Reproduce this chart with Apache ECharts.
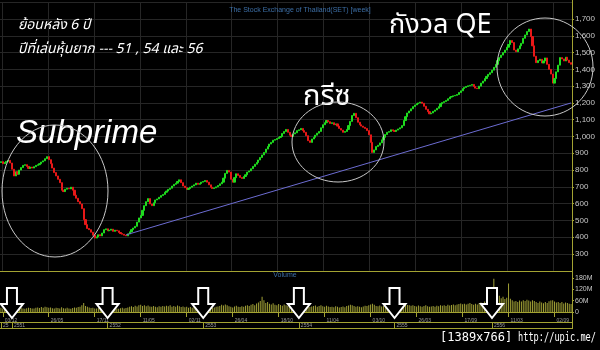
<!DOCTYPE html>
<html><head><meta charset="utf-8">
<script src="https://cdn.jsdelivr.net/npm/echarts@6/dist/echarts.min.js"></script>
<style>html,body{margin:0;padding:0;background:#000;}#c{width:600px;height:350px;}</style>
</head><body><div id="c"></div>
<script>
// ---- data (weekly SET index) ----
const startDate = [2007, 10, 26]; // first week (26/11/2007), weekly steps
const firstOpen = 845;
const closes = [
850,838,845,852,858,842,805,765,790,775,
800,815,828,832,822,810,818,812,820,828,
832,838,848,855,868,880,862,838,812,785,
765,745,725,680,672,686,692,688,698,680,
650,632,612,598,570,505,475,452,445,430,
412,395,402,415,408,425,445,450,438,442,
448,435,442,438,428,422,418,412,408,420,
432,445,455,465,490,515,530,560,588,612,
630,598,588,605,622,628,638,648,655,668,
675,685,692,705,715,722,732,742,725,705,
695,685,690,698,705,712,722,715,720,728,
732,738,728,712,698,690,694,700,708,718,
728,752,780,798,788,745,728,755,778,768,
756,750,762,772,788,795,808,822,835,845,
860,875,890,905,925,940,955,965,978,982,
988,995,1000,1018,1030,1042,1025,1008,1000,1015,
1022,1035,1040,1048,1035,1025,1005,975,965,985,
995,1008,1020,1030,1052,1070,1082,1095,1088,1078,
1082,1070,1075,1062,1048,1038,1025,1030,1042,1065,
1090,1125,1138,1112,1085,1070,1062,1055,1048,1035,
1010,965,905,920,940,948,962,980,995,1012,
1025,1030,1040,1035,1030,1038,1045,1052,1065,1095,
1118,1140,1152,1165,1178,1188,1195,1200,1205,1198,
1180,1162,1148,1135,1140,1150,1158,1168,1178,1195,
1202,1208,1215,1225,1235,1238,1242,1245,1250,1262,
1272,1285,1292,1298,1302,1305,1310,1298,1288,1285,
1300,1318,1330,1345,1358,1370,1380,1395,1412,1430,
1452,1470,1485,1500,1515,1532,1548,1572,1560,1515,
1505,1522,1540,1555,1585,1605,1625,1640,1595,1540,
1478,1440,1452,1460,1438,1450,1468,1430,1400,1372,
1318,1345,1385,1425,1470,1462,1450,1472,1455,1440,1430.33
];
// weekly volume, millions
const volumes = [
22,18,20,24,19,17,21,26,23,20,
18,22,19,17,20,23,21,18,19,22,
24,21,26,23,28,25,22,24,20,18,
23,21,19,25,20,18,22,19,17,21,
24,22,26,28,35,48,32,27,24,21,
22,19,18,21,17,20,18,16,19,22,
20,18,21,19,17,20,22,18,21,24,
27,30,26,33,29,35,38,32,36,30,
34,29,27,31,28,25,30,27,32,29,
33,30,36,28,31,27,34,30,26,29,
25,27,23,26,22,28,24,21,26,30,
28,25,27,23,26,22,24,27,29,31,
38,34,40,36,30,27,24,29,33,28,
26,30,27,33,35,31,38,42,36,45,
50,58,80,62,48,52,44,40,46,38,
35,42,37,33,39,36,31,28,34,30,
32,29,35,31,27,33,38,30,26,29,
31,34,28,32,36,30,27,33,29,26,
28,25,30,27,24,26,29,25,31,34,
38,36,32,28,30,27,25,29,33,31,
36,40,44,38,32,30,34,29,31,27,
25,28,24,26,30,27,31,34,38,42,
40,37,35,33,36,31,29,34,30,28,
32,35,30,27,29,31,28,33,30,35,
33,36,31,38,34,37,40,36,39,42,
45,41,44,39,43,47,42,38,44,40,
46,50,48,55,52,58,62,70,175,82,
78,85,72,80,68,75,150,70,62,55,
58,52,60,55,62,58,65,60,55,62,
58,52,48,55,50,46,52,48,56,60,
62,55,50,53,48,52,45,50,47,44,42
];
const lastPriceLabel = '1,430.33';
const trendStart = [68, 414];
const trendEnd = [310, 1200];
const labelEvery = 25;      // date label every 25 weeks, starting at week 1
const priceTickLabels = {min: 200, max: 1800, interval: 100};
const volTicks = {min: 0, max: 200, interval: 60};

// ---- derived structures ----
const dates = closes.map((_, i) => new Date(Date.UTC(startDate[0], startDate[1], startDate[2]) + i * 7 * 86400000));
const pad = n => (n < 10 ? '0' : '') + n;
const categories = dates.map(d => pad(d.getUTCDate()) + '/' + pad(d.getUTCMonth() + 1) + '/' + d.getUTCFullYear());
const isDateLabel = i => i >= 1 && (i - 1) % labelEvery === 0;
const isYearStart = i => i > 0 && dates[i].getUTCFullYear() !== dates[i - 1].getUTCFullYear();
const candles = closes.map((c, i) => {
  const o = i === 0 ? firstOpen : closes[i - 1];
  return [o, c, Math.min(o, c), Math.max(o, c)];
});

const OLIVE = '#a3a332';
const GRID = '#262626';
const font = "'Liberation Sans', Arial, sans-serif";

const chart = echarts.init(document.getElementById('c'), null, {renderer: 'canvas'});
chart.setOption({
  animation: false,
  backgroundColor: '#000',
  title: {
    text: 'The Stock Exchange of Thailand(SET) [week]',
    left: 'center', top: 2,
    textStyle: {color: '#3d6fa6', fontSize: 7, fontWeight: 'normal', fontFamily: font}
  },
  grid: [
    {left: 0, right: 28, top: 2.2, height: 268.6, outerBoundsMode: 'none'},
    {left: 0, right: 28, top: 274, height: 38, outerBoundsMode: 'none'}
  ],
  xAxis: [
    {type: 'category', gridIndex: 0, data: categories, boundaryGap: true,
     axisLine: {show: true, lineStyle: {color: OLIVE, width: 1}},
     axisTick: {show: false}, axisLabel: {show: false},
     splitLine: {show: true, interval: (i) => isDateLabel(i), lineStyle: {color: GRID, width: 1}}},
    {type: 'category', gridIndex: 1, data: categories, boundaryGap: true, position: 'bottom', offset: 5,
     axisLine: {show: true, lineStyle: {color: OLIVE, width: 1}},
     axisTick: {show: true, alignWithLabel: true, interval: (i) => isDateLabel(i), length: 5, lineStyle: {color: OLIVE}},
     axisLabel: {show: true, interval: (i) => isDateLabel(i), align: 'left', margin: 1, padding: [0, 0, 0, 2],
       fontSize: 5, color: '#9a9a9a', fontFamily: font,
       formatter: (v) => v.slice(0, 5)},
     splitLine: {show: false}},
    {type: 'category', gridIndex: 1, data: categories, boundaryGap: true, position: 'bottom', offset: 10,
     axisLine: {show: true, lineStyle: {color: OLIVE, width: 1}},
     axisTick: {show: true, alignWithLabel: true, interval: (i) => i === 0 || isYearStart(i), length: 6, lineStyle: {color: OLIVE}},
     axisLabel: {show: true, interval: (i) => i === 0 || isYearStart(i), align: 'left', margin: 1, padding: [0, 0, 0, 2],
       fontSize: 5, color: '#9a9a9a', fontFamily: font,
       formatter: (v, i) => i === 0 ? '25' : String(+v.slice(6) + 543)},
     splitLine: {show: false}},
    {type: 'category', gridIndex: 1, data: categories, boundaryGap: true, position: 'bottom', offset: 16,
     axisLine: {show: true, lineStyle: {color: OLIVE, width: 1}},
     axisTick: {show: false}, axisLabel: {show: false}, splitLine: {show: false}}
  ],
  yAxis: [
    {type: 'value', gridIndex: 0, position: 'right', min: priceTickLabels.min, max: priceTickLabels.max, interval: priceTickLabels.interval,
     axisLine: {show: false},
     axisTick: {show: true, length: 2, lineStyle: {color: OLIVE}},
     axisLabel: {show: true, showMinLabel: false, showMaxLabel: false, margin: 3, fontSize: 8, color: '#c8c8c8', fontFamily: font,
       formatter: (v) => v.toLocaleString('en-US')},
     splitLine: {show: true, lineStyle: {color: GRID, width: 1}}},
    {type: 'value', gridIndex: 1, position: 'right', min: volTicks.min, max: volTicks.max, interval: volTicks.interval,
     axisLine: {show: false},
     axisTick: {show: true, length: 2, lineStyle: {color: OLIVE}},
     axisLabel: {show: true, showMaxLabel: false, margin: 3, fontSize: 7, color: '#c8c8c8', fontFamily: font,
       formatter: (v) => v === 0 ? '0' : v + 'M'},
     splitLine: {show: false}}
  ],
  series: [
    {type: 'candlestick', xAxisIndex: 0, yAxisIndex: 0, data: candles, barWidth: 1.6,
     itemStyle: {color: '#1fdc1f', color0: '#e81818', borderColor: '#1fdc1f', borderColor0: '#e81818', borderWidth: 1},
     markLine: {
       silent: true, symbol: ['none', 'none'],
       data: [
         [{coord: trendStart, lineStyle: {color: '#6c6cd2', width: 1, type: 'solid'}, label: {show: false}},
          {coord: trendEnd}],
         {yAxis: closes[closes.length - 1], lineStyle: {opacity: 0},
          label: {show: true, position: 'end', distance: 1, formatter: lastPriceLabel,
            backgroundColor: '#b4ecb0', color: '#2e7a2e', fontSize: 8, fontFamily: font, padding: [1, 1, 0, 1]}}
       ]
     }},
    {type: 'bar', xAxisIndex: 1, yAxisIndex: 1, data: volumes, barWidth: 1,
     itemStyle: {color: '#a0a036'}}
  ]
});

// ---- annotations ----
const W = '#ffffff';
const thai = "'Noto Sans Thai', 'Noto Sans Thai Looped', 'Noto Sans', 'DejaVu Sans', sans-serif";
const graphics = [];
graphics.push({type: 'line', shape: {x1: 572.5, y1: 0, x2: 572.5, y2: 329}, style: {stroke: OLIVE, lineWidth: 1}, z: 10});
graphics.push({type: 'text', style: {text: 'Volume', x: 285, y: 275, align: 'center', verticalAlign: 'middle', fill: '#3d6fa6', font: '7px ' + font}, z: 10});
graphics.push({type: 'text', style: {text: 'ย้อนหลัง 6 ปี', x: 18, y: 26, align: 'left', verticalAlign: 'middle', fill: W, font: 'italic 14px ' + thai}, z: 10});
graphics.push({type: 'text', style: {text: 'ปีที่เล่นหุ้นยาก --- 51 , 54 และ 56', x: 18, y: 50, align: 'left', verticalAlign: 'middle', fill: W, font: 'italic 14px ' + thai}, z: 10});
graphics.push({type: 'text', style: {text: 'กังวล QE', x: 389, y: 28, align: 'left', verticalAlign: 'middle', fill: W, font: '27px ' + thai}, z: 10});
graphics.push({type: 'text', style: {text: 'กรีซ', x: 303, y: 99, align: 'left', verticalAlign: 'middle', fill: W, font: '29px ' + thai}, z: 10});
graphics.push({type: 'text', style: {text: 'Subprime', x: 16, y: 134, align: 'left', verticalAlign: 'middle', fill: W, font: 'italic 33px ' + font}, z: 10});
graphics.push({type: 'ellipse', shape: {cx: 55, cy: 191, rx: 53, ry: 66}, style: {fill: null, stroke: '#c8c8c8', lineWidth: 1}, z: 10});
graphics.push({type: 'ellipse', shape: {cx: 338, cy: 142, rx: 46, ry: 40}, style: {fill: null, stroke: '#c8c8c8', lineWidth: 1}, z: 10});
graphics.push({type: 'ellipse', shape: {cx: 545, cy: 67, rx: 48, ry: 49}, style: {fill: null, stroke: '#c8c8c8', lineWidth: 1}, z: 10});
// arrows at each year start
closes.forEach((_, i) => {
  if (!isYearStart(i)) return;
  const cx = chart.convertToPixel({xAxisIndex: 1}, i);
  graphics.push({type: 'polygon', shape: {points: [
    [cx - 5, 288], [cx + 5, 288], [cx + 5, 304], [cx + 11, 304], [cx, 318], [cx - 11, 304], [cx - 5, 304]
  ]}, style: {fill: '#000', stroke: W, lineWidth: 2}, z: 20});
});
graphics.push({type: 'text', style: {text: '[1389x766]', x: 440, y: 338, align: 'left', verticalAlign: 'middle', fill: W, font: '12px "DejaVu Sans Mono", monospace'}, z: 20});
graphics.push({type: 'text', x: 518, y: 338, scaleX: 0.72, style: {text: 'http://upic.me/', x: 0, y: 0, align: 'left', verticalAlign: 'middle', fill: W, font: '12px "DejaVu Sans Mono", monospace'}, z: 20});
chart.setOption({graphic: graphics});
</script>
</body></html>
